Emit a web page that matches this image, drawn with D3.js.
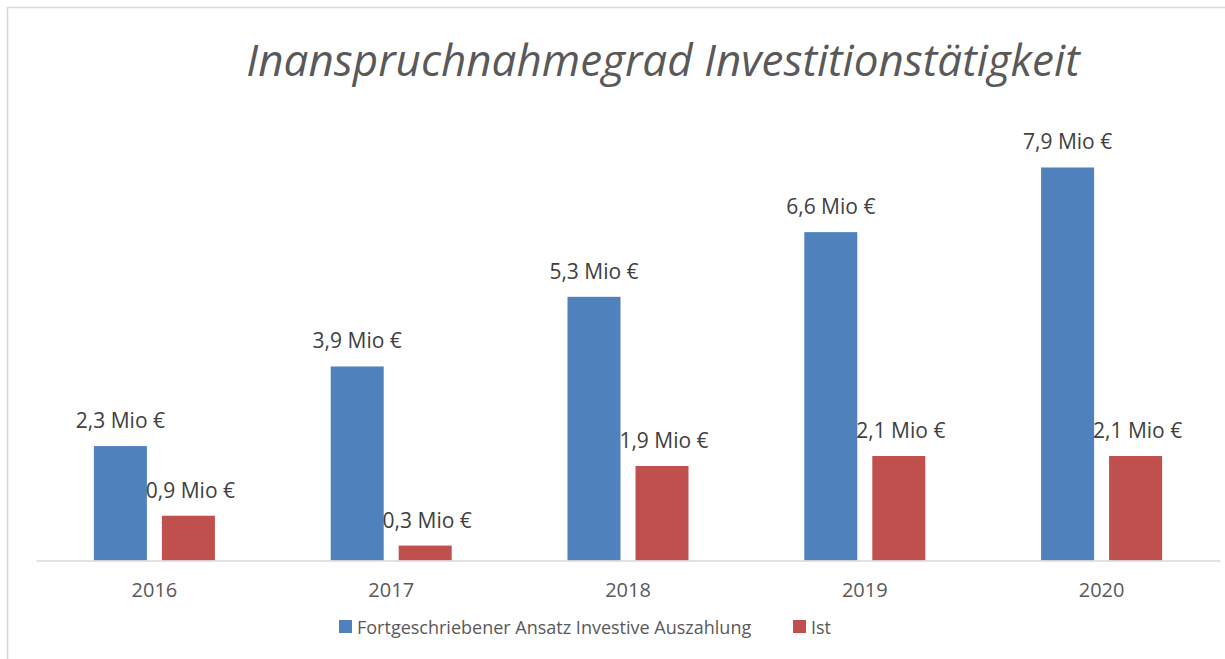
<!DOCTYPE html>
<html>
<head>
<meta charset="utf-8">
<script src="https://cdn.jsdelivr.net/npm/d3@7"></script>
<style>
  body { margin: 0; background: #fff; }
  svg { display: block; font-family: "Open Sans", sans-serif; }
</style>
</head>
<body>
<div id="chart"></div>
<script>
// Data
var years = ["2016", "2017", "2018", "2019", "2020"];
var seriesNames = ["Fortgeschriebener Ansatz Investive Auszahlung", "Ist"];
var ansatz = [2.3, 3.9, 5.3, 6.6, 7.9];
var ist = [0.9, 0.3, 1.9, 2.1, 2.1];
var colors = ["#4f81bd", "#c0504d"];

var svgWidth = 1225;
var svgHeight = 659;

var svg = d3.select("#chart")
  .append("svg")
  .attr("width", svgWidth)
  .attr("height", svgHeight);

// chart border (only top / left visible)
svg.append("rect")
  .attr("x", 7.5)
  .attr("y", 7.5)
  .attr("width", svgWidth)
  .attr("height", svgHeight)
  .attr("fill", "#fff")
  .attr("stroke", "#d9d9d9")
  .attr("stroke-width", 1.5);

// Title
svg.append("text")
  .attr("x", 663)
  .attr("y", 76)
  .attr("text-anchor", "middle")
  .attr("font-size", 44)
  .attr("font-style", "italic")
  .attr("fill", "#595959")
  .text("Inanspruchnahmegrad Investitionstätigkeit");

// Scales
var xScale = d3.scaleBand()
  .domain(years)
  .range([36, 1220]);

var xInner = d3.scaleBand()
  .domain(d3.range(seriesNames.length))
  .range([-60.5, 60.5])
  .paddingInner(15 / 68);

var yScale = d3.scaleLinear()
  .domain([0, 9])
  .range([560.5, 560.5 - 9 * 49.75]);

// build table for grouped bars
var table = years.map(function(y, i) {
  return { year: y, values: [ansatz[i], ist[i]] };
});

var groups = svg.append("g")
  .selectAll("g")
  .data(table)
  .enter()
  .append("g")
  .attr("transform", d => `translate(${xScale(d.year) + xScale.bandwidth() / 2}, 0)`);

groups.selectAll("rect")
  .data(d => d.values)
  .enter()
  .append("rect")
  .attr("x", (d, i) => xInner(i))
  .attr("y", d => yScale(d))
  .attr("width", xInner.bandwidth())
  .attr("height", d => yScale(0) - yScale(d))
  .attr("fill", (d, i) => colors[i]);

// data labels
groups.selectAll("text")
  .data(d => d.values)
  .enter()
  .append("text")
  .attr("x", (d, i) => xInner(i) + xInner.bandwidth() / 2 + (i === 1 ? 2 : 0))
  .attr("y", d => yScale(d) - 18)
  .attr("text-anchor", "middle")
  .attr("font-size", 21)
  .attr("fill", "#404040")
  .text(d => d.toFixed(1).replace(".", ",") + " Mio €");

// x axis
var xaxis = d3.axisBottom(xScale).tickSize(0).tickPadding(22);
var axisG = svg.append("g")
  .attr("transform", `translate(0, ${yScale(0)})`)
  .call(xaxis);
axisG.select(".domain")
  .attr("stroke", "#d9d9d9")
  .attr("stroke-width", 1.5);
axisG.selectAll("text")
  .attr("font-family", "Open Sans")
  .attr("font-size", 20)
  .attr("fill", "#595959");

// legend
var legendX = [339, 793];
var legend = svg.append("g")
  .selectAll("g")
  .data(seriesNames)
  .enter()
  .append("g")
  .attr("transform", (d, i) => `translate(${legendX[i]}, 620)`);

legend.append("rect")
  .attr("width", 13)
  .attr("height", 13)
  .attr("fill", (d, i) => colors[i]);

legend.append("text")
  .attr("x", 18)
  .attr("y", 14)
  .attr("font-size", 18)
  .attr("fill", "#595959")
  .text(d => d);
</script>
</body>
</html>
